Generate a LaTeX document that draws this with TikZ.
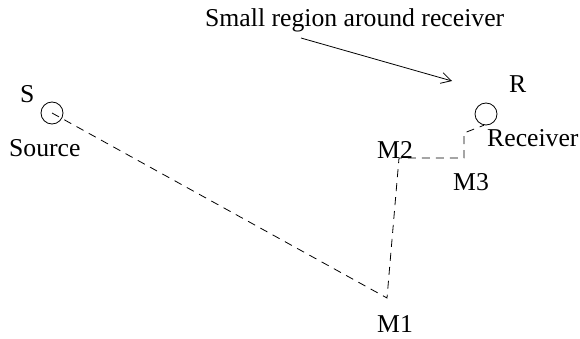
\documentclass[tikz,border=0pt]{standalone}
\usepackage{fontspec}
\setmainfont{Liberation Serif}
\usetikzlibrary{arrows.meta}
\begin{document}
\begin{tikzpicture}[x=1pt,y=-1pt,
  lbl/.style={anchor=base west,inner sep=0pt,font=\fontsize{25.7}{30}\selectfont},
  spot/.style={draw,circle,minimum size=22pt,inner sep=0pt,line width=0.8pt},
  ray/.style={draw,dash pattern=on 8pt off 6pt,line width=0.8pt},
  pointer/.style={draw,line width=0.8pt,-{Straight Barb[length=10pt,width=11pt,line width=0.8pt]}}]
\useasboundingbox (0,0) rectangle (580,339);
% points
\node[spot] (sc) at (52,113) {};
\node[spot] (rc) at (486,114) {};
\coordinate (m1) at (387,298);
\coordinate (m2) at (399,158);
\coordinate (m3) at (464,158);
\coordinate (m3b) at (464,133);
\coordinate (a1) at (301,38);
\coordinate (a2) at (452,81);
% labels
\node[lbl] (title) at (205,27) {Small region around receiver};
\node[lbl] (slbl) at (20,103) {S};
\node[lbl] (src) at (9,157) {Source};
\node[lbl] (rlbl) at (509,93) {R};
\node[lbl] (rcv) at (487,147) {Receiver};
\node[lbl] (m2lbl) at (377,158) {M2};
\node[lbl] (m3lbl) at (453,190) {M3};
\node[lbl] (m1lbl) at (377,332) {M1};
% connectors
\path[ray] (sc.center) -- (m1) -- (m2) -- (m3) -- (m3b) -- (rc.-100);
\path[pointer] (a1) -- (a2);
\end{tikzpicture}
\end{document}
